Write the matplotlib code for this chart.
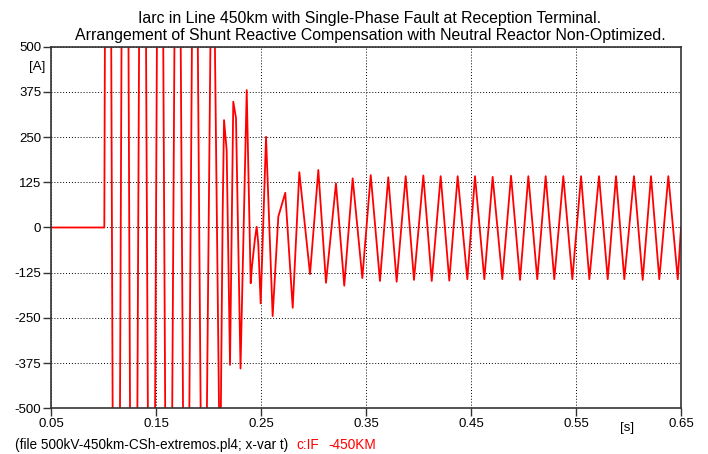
import matplotlib.pyplot as plt

plt.rcParams['font.family'] = ['Liberation Sans', 'DejaVu Sans']

# waveform vertices: time [s] and current [A]
t_pts = [0.05, 0.1008,
         0.1040, 0.1121, 0.1205, 0.1286, 0.1371, 0.1457, 0.1538, 0.1619,
         0.1705, 0.1786, 0.1869, 0.1952, 0.2038, 0.2110,
         0.2135, 0.2148, 0.2173, 0.2205, 0.2236, 0.2262, 0.2305, 0.2364,
         0.2402, 0.2414, 0.2443, 0.2459, 0.2474, 0.2497, 0.2548,
         0.2611, 0.2665, 0.2731, 0.2802, 0.2865, 0.2967, 0.3046, 0.3119,
         0.3214, 0.3293, 0.3373, 0.3465, 0.3545,
         0.3633, 0.3712, 0.3792, 0.3878, 0.3957, 0.4046, 0.4126, 0.4211,
         0.4293, 0.4373, 0.4465, 0.4538, 0.4627, 0.4706, 0.4798, 0.4881,
         0.4967, 0.5046, 0.5131, 0.5211, 0.5293, 0.5379, 0.5465, 0.5548,
         0.5627, 0.5719, 0.5802, 0.5881, 0.5960, 0.6052, 0.6135, 0.6214,
         0.6293, 0.6379, 0.6469, 0.65]
i_pts = [0, 0,
         3000, -3000, 2800, -2800, 2500, -2500, 2200, -2200,
         1900, -1800, 1600, -1500, 1100, -750,
         40, 297, 214, -380, 348, 303, -390, 380,
         -154, -108, -30, 2, -44, -210, 251,
         -245, 30, 96, -222, 153, -129, 159, -153,
         122, -161, 136, -140, 145,
         -148, 139, -150, 142, -145, 144, -148, 142,
         -147, 142, -143, 142, -143, 140, -143, 143,
         -145, 142, -143, 142, -143, 142, -143, 142,
         -143, 142, -143, 142, -143, 142, -145, 142,
         -143, 142, -143, 0]

x_ticks = [0.05, 0.15, 0.25, 0.35, 0.45, 0.55, 0.65]
y_ticks = [-500, -375, -250, -125, 0, 125, 250, 375, 500]

fig = plt.figure(figsize=(7.08, 4.54), dpi=100)
ax = fig.add_axes([0.072, 0.1007, 0.8899, 0.7964])

ax.plot(t_pts, i_pts, color='red', lw=1.3)

ax.set_xlim(0.05, 0.65)
ax.set_ylim(-500, 500)
ax.set_xticks(x_ticks)
ax.set_xticklabels([f"{v:.2f}" for v in x_ticks])
ax.set_yticks(y_ticks)
ax.set_yticklabels([str(v) for v in y_ticks])
ax.tick_params(direction='out', length=5.5, width=1.0, color='#333333',
               labelsize=9.5, pad=1.5)
ax.grid(True, color='black', linestyle=(0, (1, 2)), lw=0.7)
for s in ax.spines.values():
    s.set_color('#333333')
    s.set_linewidth(1.2)

# titles and labels
fig.text(370 / 708, 1 - 19 / 454,
         "Iarc in Line 450km with Single-Phase Fault at Reception Terminal.",
         ha='center', va='center', fontsize=11.4)
fig.text(370 / 708, 1 - 35.5 / 454,
         "Arrangement of Shunt Reactive Compensation with Neutral Reactor Non-Optimized.",
         ha='center', va='center', fontsize=11.4)
fig.text(45 / 708, 1 - 67 / 454, "[A]", ha='right', va='center', fontsize=9.5)
fig.text(627 / 708, 1 - 428 / 454, "[s]", ha='center', va='center', fontsize=9.5)
fig.text(15 / 708, 1 - 445 / 454, "(file 500kV-450km-CSh-extremos.pl4; x-var t)",
         ha='left', va='center', fontsize=9.8)
fig.text(296 / 708, 1 - 445 / 454, "c:IF", color='red',
         ha='left', va='center', fontsize=9.8)
fig.text(328 / 708, 1 - 445 / 454, "-450KM", color='red',
         ha='left', va='center', fontsize=9.8)

fig.savefig('out.png', dpi=100)
